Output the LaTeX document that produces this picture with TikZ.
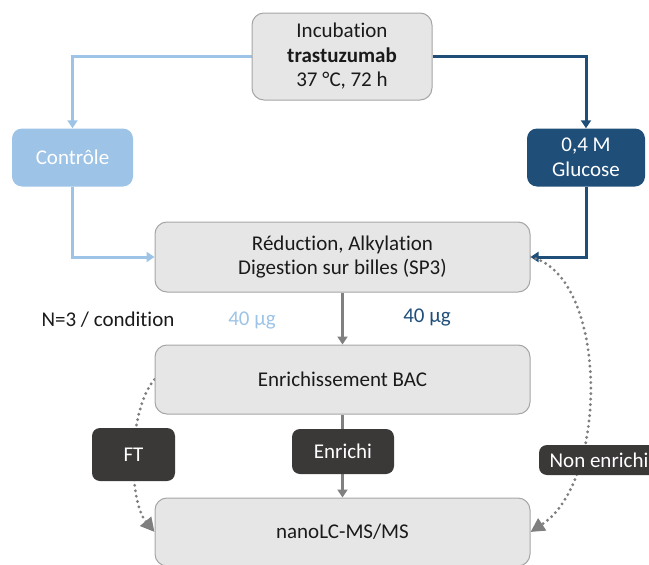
\documentclass[tikz,border=0pt]{standalone}
\usepackage{fontspec}
\setmainfont{Carlito}[Ligatures={NoCommon}]
\usetikzlibrary{arrows.meta}
\definecolor{boxgray}{HTML}{E7E6E6}
\definecolor{boxline}{HTML}{A6A6A6}
\definecolor{lblue}{HTML}{9DC3E6}
\definecolor{dblue}{HTML}{1F4E79}
\definecolor{darkbox}{HTML}{3B3838}
\definecolor{arrgray}{HTML}{808080}
\definecolor{dotgray}{HTML}{7F7F7F}
\definecolor{txt}{HTML}{1A1A1A}
\pgfdeclarelayer{bg}
\pgfsetlayers{bg,main}
\tikzset{
  every node/.style={font=\fontsize{21}{24.5}\selectfont, inner sep=0pt},
  stepbox/.style={draw=boxline, line width=1pt, fill=boxgray, rounded corners=12pt, align=center, text=txt},
  lightbox/.style={fill=lblue, rounded corners=10pt, align=center, text=white},
  darkbluebox/.style={fill=dblue, rounded corners=10pt, align=center, text=white},
  tagbox/.style={fill=darkbox, rounded corners=8pt, align=center, text=white},
  lightarrow/.style={draw=lblue, line width=3pt, -{Triangle[width=10pt,length=8pt]}},
  darkarrow/.style={draw=dblue, line width=3pt, -{Triangle[width=10pt,length=8pt]}},
  grayarrow/.style={draw=arrgray, line width=3pt, -{Triangle[width=10pt,length=8pt]}},
  dotarrow/.style={draw=dotgray, line width=3.2pt, line cap=round, dash pattern=on 0pt off 5.5pt, -{Triangle[width=14pt,length=14pt,fill=dotgray]}},
}
\begin{document}
\begin{tikzpicture}[x=1pt,y=-1pt]
\useasboundingbox (0,0) rectangle (649,565);
\node[stepbox, minimum width=180pt, minimum height=87pt] (incub) at (342,56.5) {Incubation\\\textbf{trastuzumab}\\37 °C, 72 h};
\node[lightbox, minimum width=121pt, minimum height=58pt] (ctrl) at (72.5,157.5) {Contrôle};
\node[darkbluebox, minimum width=118pt, minimum height=58pt] (gluc) at (586,157.5) {0,4 M\\Glucose};
\node[stepbox, minimum width=375pt, minimum height=70pt] (red) at (342.5,257) {Réduction, Alkylation\\Digestion sur billes (SP3)};
\node[stepbox, minimum width=375pt, minimum height=69pt] (enr) at (342.5,379.5) {Enrichissement BAC};
\node[stepbox, minimum width=375pt, minimum height=68pt] (nano) at (342.5,532) {nanoLC-MS/MS};
\node[tagbox, minimum width=83pt, minimum height=53pt] (ft) at (133.5,454.5) {FT};
\node[tagbox, minimum width=102pt, minimum height=45pt] (enrichi) at (343,451.5) {Enrichi};
\node[tagbox, minimum width=120pt, minimum height=30pt] (nonenr) at (599,460) {Non enrichi};
\node[text=txt] (ncond) at (108,320) {N=3 / condition};
\node[text=lblue] (mul) at (252,320) {40 µg};
\node[text=dblue] (mud) at (427,317) {40 µg};
\begin{pgfonlayer}{bg}
\draw[lightarrow] (incub.west) -| (ctrl.north);
\draw[darkarrow] (incub.east) -| (gluc.north);
\draw[lightarrow] (ctrl.south) |- (red.west);
\draw[darkarrow] (gluc.south) |- (red.east);
\draw[grayarrow] (red.south) -- (enr.north);
\draw[grayarrow] (enr.south) -- (nano.north);
\draw[dotarrow] (enr.west) .. controls (128,410) and (128,500) .. (nano.west);
\draw[dotarrow] (red.east) .. controls (608,275) and (610,480) .. (nano.east);
\end{pgfonlayer}
\end{tikzpicture}
\end{document}
